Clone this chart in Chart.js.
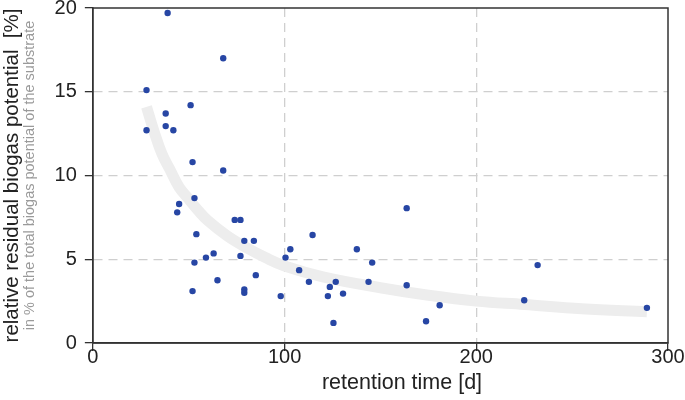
<!DOCTYPE html>
<html>
<head>
<meta charset="utf-8">
<script src="https://cdn.jsdelivr.net/npm/chart.js@4"></script>
<style>
  body { margin: 0; background: #fff; }
</style>
</head>
<body>
<canvas id="biogasChart" width="685" height="400"></canvas>
<script>
// Messpunkte: Verweilzeit [d] und Restgaspotenzial [%]
const retentionDays = [39, 68, 28, 51, 38, 28, 38, 42, 52, 68,
    53, 45, 44, 74, 77, 54, 79, 84, 103, 100.5,
    77, 63, 59, 53, 85, 65, 79, 79, 52, 98,
    114.6, 107.6, 112.7, 126.7, 123.6, 122.6, 130.5, 125.5, 137.7, 145.7,
    143.8, 163.7, 163.7, 180.9, 173.8, 232, 225, 289];
const residualPotential = [19.7, 17.0, 15.1, 14.2, 13.7, 12.7, 12.95, 12.7, 10.8, 10.3,
    8.65, 8.3, 7.8, 7.35, 7.35, 6.5, 6.1, 6.1, 5.6, 5.1,
    5.2, 5.35, 5.1, 4.8, 4.05, 3.75, 3.2, 3.0, 3.1, 2.8,
    6.45, 4.35, 3.65, 3.65, 3.35, 2.8, 2.95, 1.2, 5.6, 4.8,
    3.65, 8.05, 3.45, 2.25, 1.3, 4.65, 2.55, 2.1];

// Trendkurve
const trendDays = [28, 32, 36, 40, 45, 50, 55, 60, 70, 80,
    90, 100, 120, 150, 175, 200, 225, 255, 289];
const trendValues = [14.1, 12.6, 11.3, 10.4, 9.3, 8.6, 7.9, 7.3, 6.4, 5.7,
    5.1, 4.6, 3.95, 3.3, 2.85, 2.5, 2.3, 2.05, 1.87];

// Achsen
const xTicks = [0, 100, 200, 300];
const yTicks = [0, 5, 10, 15, 20];

const xTitle = "retention time [d]";
const yTitle = "relative residual biogas potential  [%]";
const ySubtitle = "in % of the total biogas potential of the substrate";

const fontName = "'Liberation Sans', Arial, sans-serif";

// Rahmen, x-Titel und graue Untertitelzeile
const framePlugin = {
    id: "frame",
    afterDraw(chart) {
        const ctx = chart.ctx;
        const area = chart.chartArea;

        ctx.save();
        ctx.strokeStyle = "#333";
        ctx.lineWidth = 1.5;
        ctx.strokeRect(area.left, area.top,
            area.right - area.left, area.bottom - area.top);

        ctx.font = "21.5px " + fontName;
        ctx.fillStyle = "#222";
        ctx.textAlign = "center";
        ctx.textBaseline = "middle";
        ctx.fillText(xTitle, 402, 383);

        ctx.translate(30, (area.top + area.bottom) / 2);
        ctx.rotate(-Math.PI / 2);
        ctx.font = "14.5px " + fontName;
        ctx.fillStyle = "#9a9a9a";
        ctx.fillText(ySubtitle, 0, 0);
        ctx.restore();
    }
};

const edgeClear = (edges) => (c) =>
    edges.includes(c.tick && c.tick.value) ? "rgba(0,0,0,0)" : "#cfcfcf";

new Chart(document.getElementById("biogasChart"), {

    type: "scatter",

    data: {
        datasets: [
            {
                label: "Messwerte",
                data: retentionDays.map((d, i) => ({ x: d, y: residualPotential[i] })),
                backgroundColor: "#2746a4",
                borderColor: "#2746a4",
                pointRadius: 3.2,
                pointBorderWidth: 0,
                order: 0
            },
            {
                label: "Trend",
                data: trendDays.map((d, i) => ({ x: d, y: trendValues[i] })),
                showLine: true,
                borderColor: "#ededed",
                borderWidth: 11,
                borderCapStyle: "butt",
                tension: 0.4,
                pointRadius: 0,
                order: 1
            }
        ]
    },

    options: {
        responsive: false,
        animation: false,
        devicePixelRatio: 1,

        layout: {
            padding: { left: 0, right: 17, top: 8, bottom: 37 }
        },

        plugins: {
            legend: { display: false },
            tooltip: { enabled: false }
        },

        scales: {
            x: {
                type: "linear",
                min: 0,
                max: 300,
                afterBuildTicks: (s) => { s.ticks = xTicks.map(v => ({ value: v })); },
                ticks: {
                    color: "#222",
                    padding: -4,
                    font: { family: fontName, size: 20, lineHeight: 1.0 }
                },
                grid: {
                    color: edgeClear([0, 300]),
                    lineWidth: 1.3,
                    tickLength: 8,
                    tickColor: "#333",
                    tickWidth: 1.3
                },
                border: { color: "#333", width: 1.5, dash: [9, 6] }
            },
            y: {
                type: "linear",
                min: 0,
                max: 20,
                afterBuildTicks: (s) => { s.ticks = yTicks.map(v => ({ value: v })); },
                afterFit: (s) => { s.paddingTop = 0; },
                ticks: {
                    color: "#222",
                    padding: 8,
                    font: { family: fontName, size: 20, lineHeight: 0.8 }
                },
                grid: {
                    color: edgeClear([0, 20]),
                    lineWidth: 1.3,
                    tickLength: 8,
                    tickColor: "#333",
                    tickWidth: 1.3
                },
                border: { color: "#333", width: 1.5, dash: [9, 6] },
                title: {
                    display: true,
                    text: yTitle,
                    color: "#222",
                    padding: { top: 0, bottom: 22 },
                    font: { family: fontName, size: 20.5, lineHeight: 1.2 }
                }
            }
        }
    },

    plugins: [framePlugin]
});
</script>
</body>
</html>
